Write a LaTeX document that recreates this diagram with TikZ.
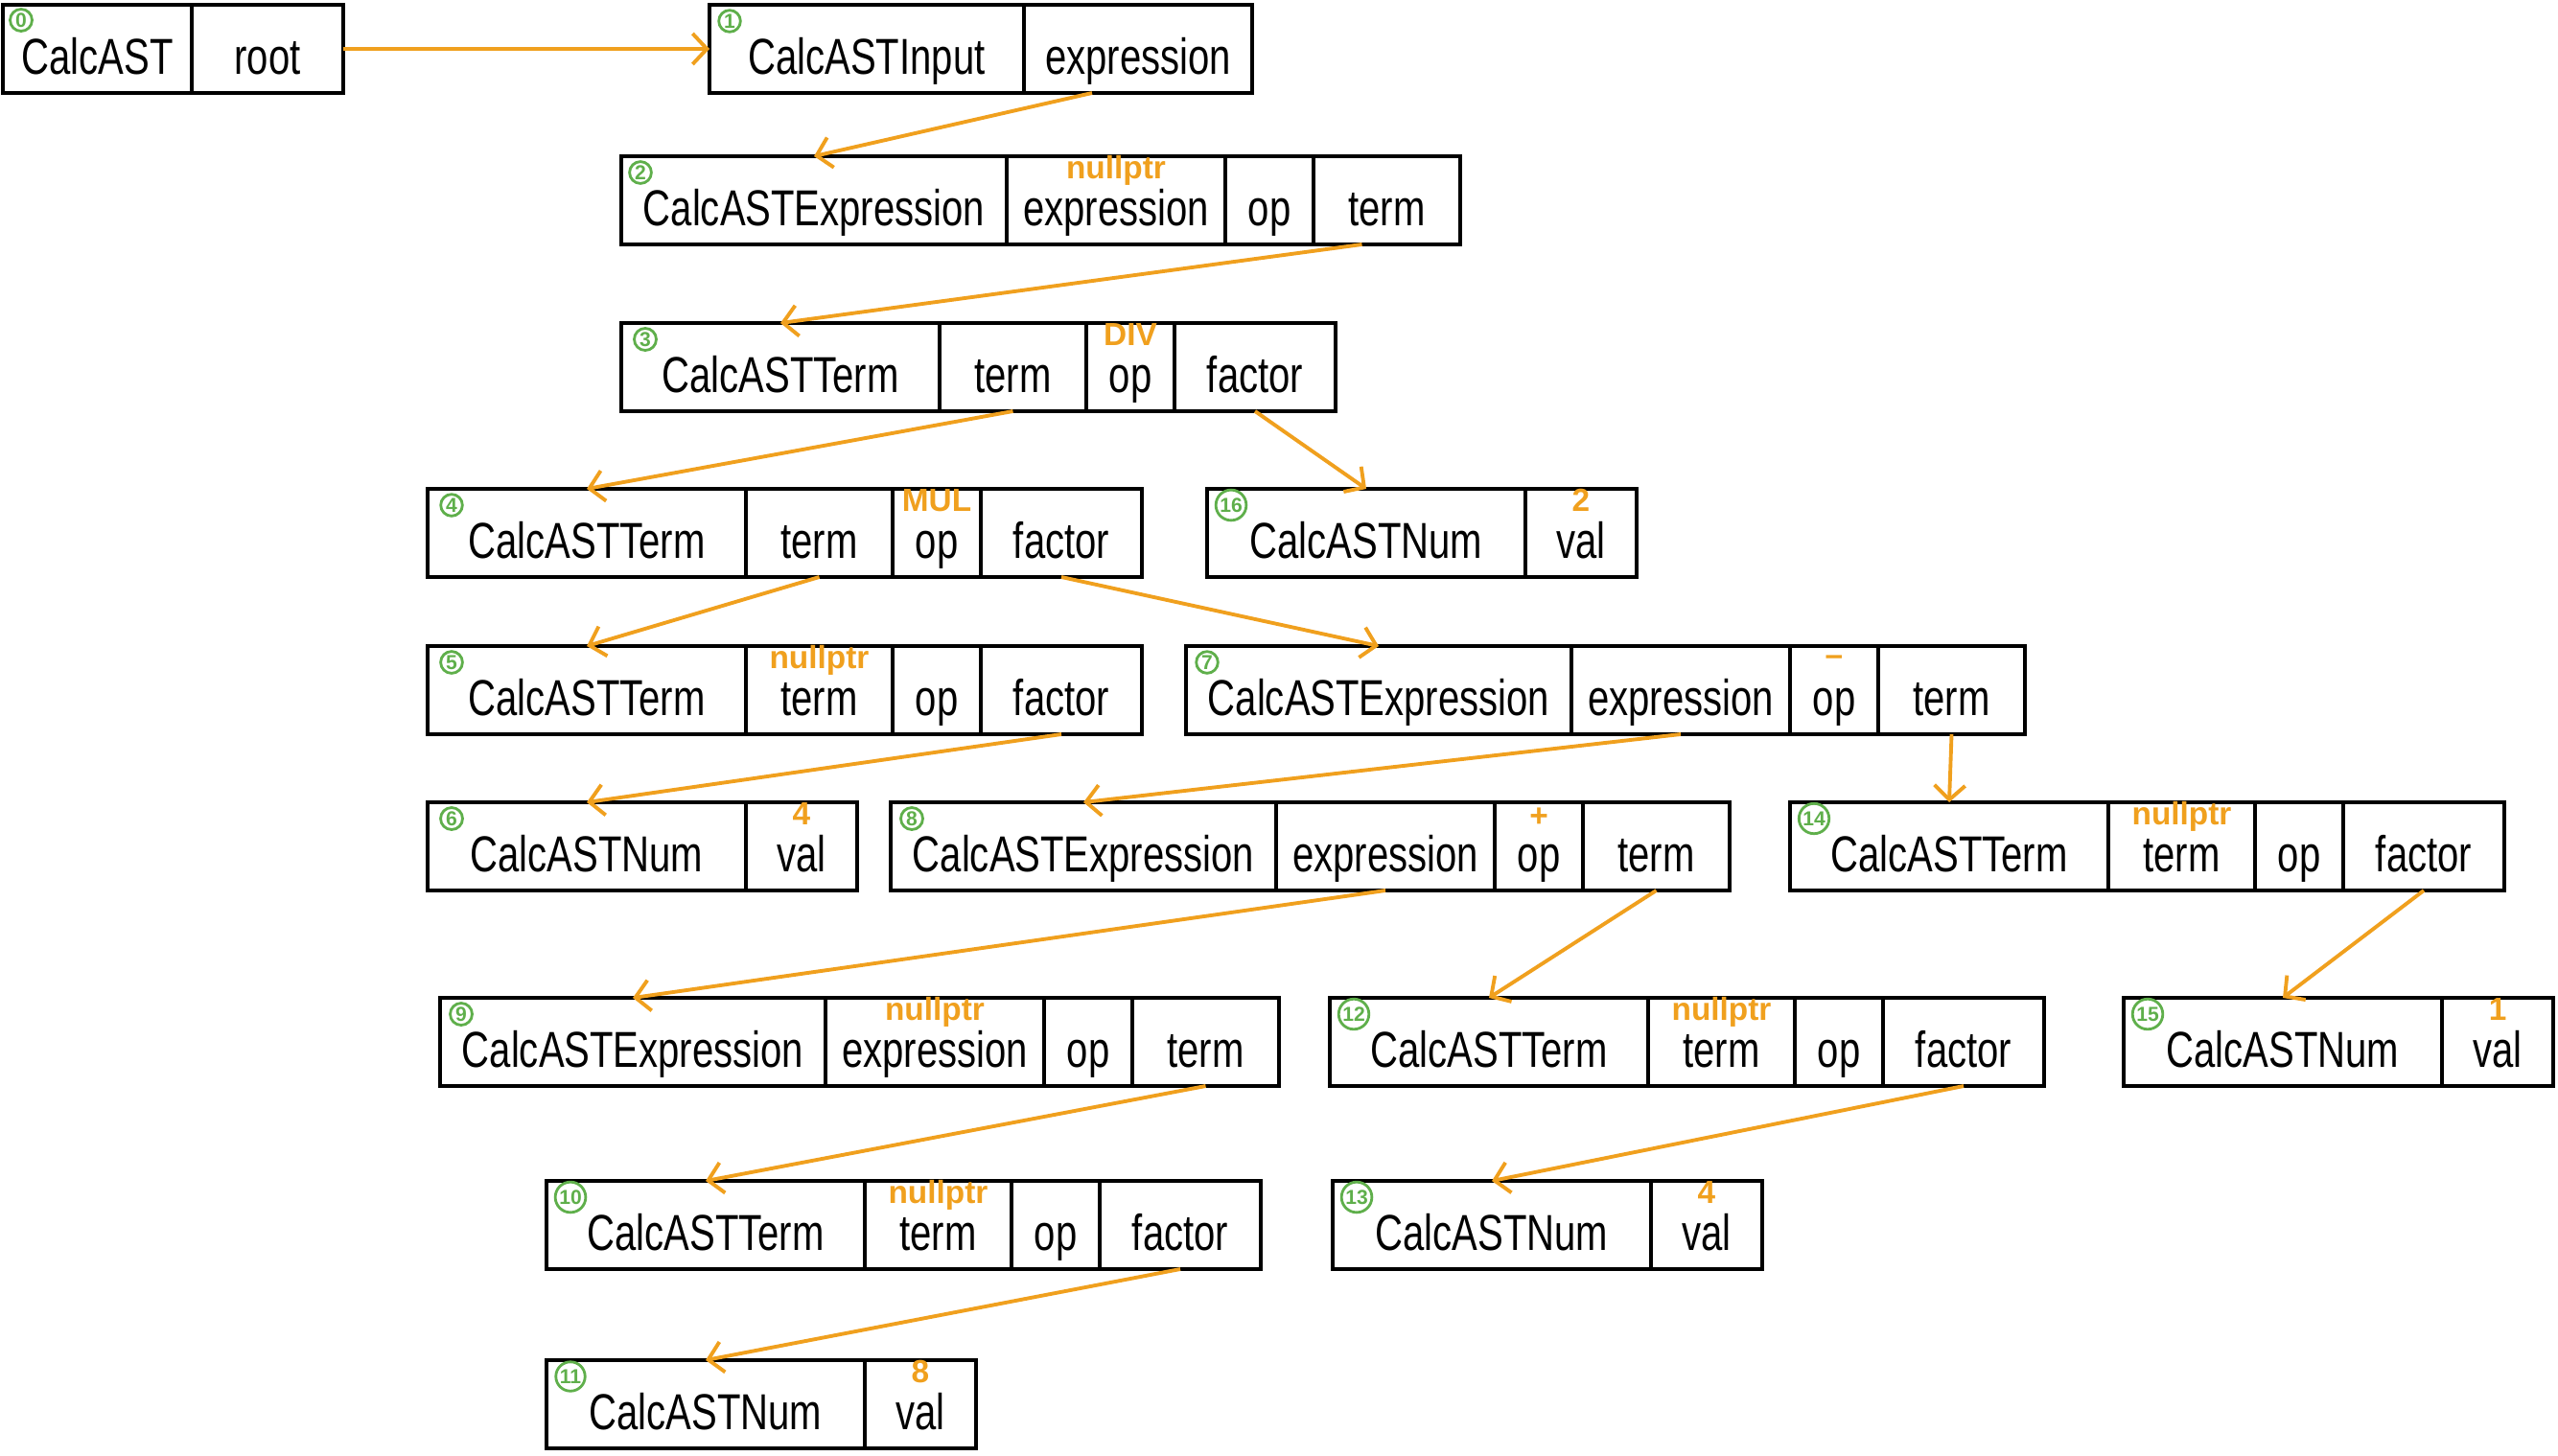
\documentclass[tikz,border=0pt]{standalone}
\usepackage{fontspec}
\usetikzlibrary{positioning,arrows.meta}
\newfontfamily\handfont{Liberation Sans}[FakeStretch=0.76]
\newfontfamily\notefont{Liberation Sans}
\definecolor{linkorange}{RGB}{240,160,30}
\definecolor{taggreen}{RGB}{95,175,75}
\tikzset{
  cell/.style={draw, line width=1pt, minimum width=#1, minimum height=0.92cm,
    inner sep=0.05cm, outer sep=0pt, text height=0.58cm, text depth=0.06cm,
    font=\handfont\fontsize{15}{18}\selectfont},
  note/.style={anchor=base, inner sep=0pt, text=linkorange,
    font=\notefont\bfseries\fontsize{9.5}{10}\selectfont},
  tag/.style={circle, draw=taggreen, text=taggreen, line width=0.8pt, inner sep=0.4pt,
    font=\notefont\bfseries\fontsize{6}{6}\selectfont},
  link/.style={draw=linkorange, line width=1.1pt, -{Straight Barb[length=1.5mm,width=3.2mm]}}
}
\begin{document}
\begin{tikzpicture}[y=-1cm]
                    \useasboundingbox (0,0) rectangle (26.68,15.18);

                    % 0: CalcAST
                    \node[cell=1.97cm, anchor=north west] (c0) at (0.03,0.05) {CalcAST};
                    \node[cell=1.58cm, right=0pt of c0] (c0root) {root};
                    \node[tag] at ([xshift=0.19cm,yshift=-0.16cm]c0.north west) {0};

                    % 1: CalcASTInput
                    \node[cell=3.28cm, anchor=north west] (c1) at (7.40,0.05) {CalcASTInput};
                    \node[cell=2.38cm, right=0pt of c1] (c1expr) {expression};
                    \node[tag] at ([xshift=0.21cm,yshift=-0.17cm]c1.north west) {1};

                    % 2: CalcASTExpression
                    \node[cell=4.02cm, anchor=north west] (c2) at (6.48,1.63) {CalcASTExpression};
                    \node[cell=2.28cm, right=0pt of c2] (c2expr) {expression};
                    \node[cell=0.92cm, right=0pt of c2expr] (c2op) {op};
                    \node[cell=1.53cm, right=0pt of c2op] (c2term) {term};
                    \node[tag] at ([xshift=0.2cm,yshift=-0.17cm]c2.north west) {2};
                    \node[note] at ([yshift=-0.23cm]c2expr.north) {nullptr};

                    % 3: CalcASTTerm
                    \node[cell=3.32cm, anchor=north west] (c3) at (6.48,3.37) {CalcASTTerm};
                    \node[cell=1.53cm, right=0pt of c3] (c3term) {term};
                    \node[cell=0.92cm, right=0pt of c3term] (c3op) {op};
                    \node[cell=1.68cm, right=0pt of c3op] (c3factor) {factor};
                    \node[tag] at ([xshift=0.25cm,yshift=-0.17cm]c3.north west) {3};
                    \node[note] at ([yshift=-0.23cm]c3op.north) {DIV};

                    % 4: CalcASTTerm
                    \node[cell=3.32cm, anchor=north west] (c4) at (4.46,5.10) {CalcASTTerm};
                    \node[cell=1.53cm, right=0pt of c4] (c4term) {term};
                    \node[cell=0.92cm, right=0pt of c4term] (c4op) {op};
                    \node[cell=1.68cm, right=0pt of c4op] (c4factor) {factor};
                    \node[tag] at ([xshift=0.25cm,yshift=-0.17cm]c4.north west) {4};
                    \node[note] at ([yshift=-0.23cm]c4op.north) {MUL};

                    % 16: CalcASTNum
                    \node[cell=3.32cm, anchor=north west] (c16) at (12.59,5.10) {CalcASTNum};
                    \node[cell=1.16cm, right=0pt of c16] (c16val) {val};
                    \node[tag] at ([xshift=0.25cm,yshift=-0.17cm]c16.north west) {16};
                    \node[note] at ([yshift=-0.23cm]c16val.north) {2};

                    % 5: CalcASTTerm
                    \node[cell=3.32cm, anchor=north west] (c5) at (4.46,6.74) {CalcASTTerm};
                    \node[cell=1.53cm, right=0pt of c5] (c5term) {term};
                    \node[cell=0.92cm, right=0pt of c5term] (c5op) {op};
                    \node[cell=1.68cm, right=0pt of c5op] (c5factor) {factor};
                    \node[tag] at ([xshift=0.25cm,yshift=-0.17cm]c5.north west) {5};
                    \node[note] at ([yshift=-0.23cm]c5term.north) {nullptr};

                    % 7: CalcASTExpression
                    \node[cell=4.02cm, anchor=north west] (c7) at (12.37,6.74) {CalcASTExpression};
                    \node[cell=2.28cm, right=0pt of c7] (c7expr) {expression};
                    \node[cell=0.92cm, right=0pt of c7expr] (c7op) {op};
                    \node[cell=1.53cm, right=0pt of c7op] (c7term) {term};
                    \node[tag] at ([xshift=0.22cm,yshift=-0.17cm]c7.north west) {7};
                    \node[note] at ([yshift=-0.2cm]c7op.north) {–};

                    % 6: CalcASTNum
                    \node[cell=3.32cm, anchor=north west] (c6) at (4.46,8.37) {CalcASTNum};
                    \node[cell=1.16cm, right=0pt of c6] (c6val) {val};
                    \node[tag] at ([xshift=0.25cm,yshift=-0.17cm]c6.north west) {6};
                    \node[note] at ([yshift=-0.23cm]c6val.north) {4};

                    % 8: CalcASTExpression
                    \node[cell=4.02cm, anchor=north west] (c8) at (9.29,8.37) {CalcASTExpression};
                    \node[cell=2.28cm, right=0pt of c8] (c8expr) {expression};
                    \node[cell=0.92cm, right=0pt of c8expr] (c8op) {op};
                    \node[cell=1.53cm, right=0pt of c8op] (c8term) {term};
                    \node[tag] at ([xshift=0.22cm,yshift=-0.17cm]c8.north west) {8};
                    \node[note] at ([yshift=-0.25cm]c8op.north) {+};

                    % 14: CalcASTTerm
                    \node[cell=3.32cm, anchor=north west] (c14) at (18.67,8.37) {CalcASTTerm};
                    \node[cell=1.53cm, right=0pt of c14] (c14term) {term};
                    \node[cell=0.92cm, right=0pt of c14term] (c14op) {op};
                    \node[cell=1.68cm, right=0pt of c14op] (c14factor) {factor};
                    \node[tag] at ([xshift=0.25cm,yshift=-0.17cm]c14.north west) {14};
                    \node[note] at ([yshift=-0.23cm]c14term.north) {nullptr};

                    % 9: CalcASTExpression
                    \node[cell=4.02cm, anchor=north west] (c9) at (4.59,10.41) {CalcASTExpression};
                    \node[cell=2.28cm, right=0pt of c9] (c9expr) {expression};
                    \node[cell=0.92cm, right=0pt of c9expr] (c9op) {op};
                    \node[cell=1.53cm, right=0pt of c9op] (c9term) {term};
                    \node[tag] at ([xshift=0.22cm,yshift=-0.17cm]c9.north west) {9};
                    \node[note] at ([yshift=-0.23cm]c9expr.north) {nullptr};

                    % 12: CalcASTTerm
                    \node[cell=3.32cm, anchor=north west] (c12) at (13.87,10.41) {CalcASTTerm};
                    \node[cell=1.53cm, right=0pt of c12] (c12term) {term};
                    \node[cell=0.92cm, right=0pt of c12term] (c12op) {op};
                    \node[cell=1.68cm, right=0pt of c12op] (c12factor) {factor};
                    \node[tag] at ([xshift=0.25cm,yshift=-0.17cm]c12.north west) {12};
                    \node[note] at ([yshift=-0.23cm]c12term.north) {nullptr};

                    % 15: CalcASTNum
                    \node[cell=3.32cm, anchor=north west] (c15) at (22.15,10.41) {CalcASTNum};
                    \node[cell=1.16cm, right=0pt of c15] (c15val) {val};
                    \node[tag] at ([xshift=0.25cm,yshift=-0.17cm]c15.north west) {15};
                    \node[note] at ([yshift=-0.23cm]c15val.north) {1};

                    % 10: CalcASTTerm
                    \node[cell=3.32cm, anchor=north west] (c10) at (5.70,12.32) {CalcASTTerm};
                    \node[cell=1.53cm, right=0pt of c10] (c10term) {term};
                    \node[cell=0.92cm, right=0pt of c10term] (c10op) {op};
                    \node[cell=1.68cm, right=0pt of c10op] (c10factor) {factor};
                    \node[tag] at ([xshift=0.25cm,yshift=-0.17cm]c10.north west) {10};
                    \node[note] at ([yshift=-0.23cm]c10term.north) {nullptr};

                    % 13: CalcASTNum
                    \node[cell=3.32cm, anchor=north west] (c13) at (13.90,12.32) {CalcASTNum};
                    \node[cell=1.16cm, right=0pt of c13] (c13val) {val};
                    \node[tag] at ([xshift=0.25cm,yshift=-0.17cm]c13.north west) {13};
                    \node[note] at ([yshift=-0.23cm]c13val.north) {4};

                    % 11: CalcASTNum
                    \node[cell=3.32cm, anchor=north west] (c11) at (5.70,14.19) {CalcASTNum};
                    \node[cell=1.16cm, right=0pt of c11] (c11val) {val};
                    \node[tag] at ([xshift=0.25cm,yshift=-0.17cm]c11.north west) {11};
                    \node[note] at ([yshift=-0.23cm]c11val.north) {8};

                    % pointers
                    \path (c0root.east) edge[link] (c1.west);
                    \path ([xshift=-0.48cm]c1expr.south) edge[link] (c2.north);
                    \path ([xshift=-0.26cm]c2term.south) edge[link] (c3.north);
                    \path (c3term.south) edge[link] (c4.north);
                    \path (c3factor.south) edge[link] (c16.north);
                    \path (c4term.south) edge[link] (c5.north);
                    \path (c4factor.south) edge[link] (c7.north);
                    \path (c5factor.south) edge[link] (c6.north);
                    \path (c7expr.south) edge[link] (c8.north);
                    \path (c7term.south) edge[link] (c14.north);
                    \path (c8expr.south) edge[link] (c9.north);
                    \path (c8term.south) edge[link] (c12.north);
                    \path (c14factor.south) edge[link] (c15.north);
                    \path (c9term.south) edge[link] (c10.north);
                    \path (c12factor.south) edge[link] (c13.north);
                    \path (c10factor.south) edge[link] (c11.north);

                \end{tikzpicture}
\end{document}
